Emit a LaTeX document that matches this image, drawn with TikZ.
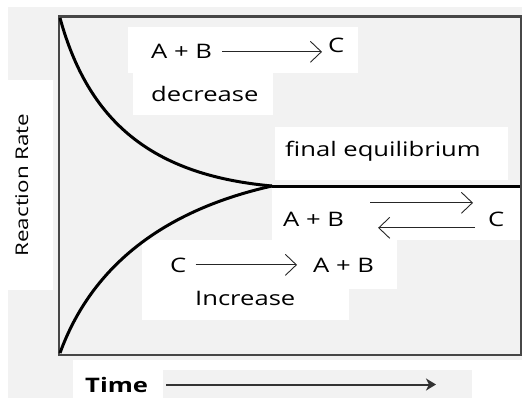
\documentclass[tikz,border=0pt]{standalone}
\usepackage{fontspec}
\setmainfont{Open Sans}[FakeStretch=1.28]
\usetikzlibrary{arrows.meta, calc}

\begin{document}
\begin{tikzpicture}[x=1pt, y=-1pt,
  lbl/.style={inner sep=0pt, anchor=base west, text=black, font=\fontsize{20}{24}\selectfont},
  rxn/.style={-{Straight Barb[length=11pt, width=21pt]}, line width=0.9pt, draw=black!85},
  timearrow/.style={-{Stealth[length=10pt, width=12pt, inset=3pt]}, line width=2pt, draw=black!80},
  curve/.style={line width=3pt, draw=black, line join=round},
  frame/.style={line width=2.6pt, draw=black!72},
  patch/.style={fill=white},
  shade/.style={fill=black!5}]
  \useasboundingbox (0,0) rectangle (524,398);
  % background
  \fill[white] (0,0) rectangle (524,398);
  \fill[shade] (8,7) rectangle (522,360);
  \fill[patch] (8,80) rectangle (53,290);
  \fill[shade] (8,290) rectangle (73,398);
  \fill[shade] (163,370) rectangle (472,398);
  % white patches behind the labels
  \fill[patch] (128,27) rectangle (358,73);
  \fill[patch] (133,73) rectangle (273,115);
  \fill[patch] (275,127) rectangle (508,180);
  \fill[patch] (272,187) rectangle (521,240);
  \fill[patch] (142,240) rectangle (397,289);
  \fill[patch] (142,289) rectangle (349,320);

  % plot frame
  \draw[frame] (59,16.5) rectangle (521,355);

  % rate curves
  \coordinate (eq) at (272,186);
  \draw[curve] (60,18) .. controls (88,120) and (150,175) .. (eq);
  \draw[curve] (60,353) .. controls (92,265) and (165,210) .. (eq);
  \draw[curve] (eq) -- (520,186);

  % labels
  \node[lbl] (ab1) at (151,59) {A + B};
  \node[lbl] (c1) at (328,53) {C};
  \node[lbl] (dec) at (151,102) {decrease};
  \node[lbl] (feq) at (285,157) {final equilibrium};
  \node[lbl] (ab2) at (283,226) {A + B};
  \node[lbl] (c2) at (488,226) {C};
  \node[lbl] (c3) at (170,272) {C};
  \node[lbl] (ab3) at (313,272) {A + B};
  \node[lbl] (inc) at (195,305) {Increase};
  \node[lbl, rotate=90, anchor=base, font=\fontsize{17.5}{20}\selectfont] (ylab) at (28,185) {Reaction Rate};
  \node[lbl, font=\fontsize{20}{24}\selectfont\bfseries] (time) at (85,392) {Time};
  \coordinate (tend) at (436,385);

  % reaction arrows
  \draw[rxn] ([xshift=10pt]ab1.east) -- ([xshift=-6pt]ab1.east -| c1.west);
  \draw[rxn] ([xshift=26pt, yshift=16pt]ab2.east) -- ([xshift=-15pt, yshift=16pt]ab2.east -| c2.west);
  \draw[rxn] ([xshift=-13pt, yshift=-9pt]ab2.east -| c2.west) -- ([xshift=34pt, yshift=-9pt]ab2.east);
  \draw[rxn] ([xshift=9pt]c3.east) -- ([xshift=-16pt]c3.east -| ab3.west);
  \draw[timearrow] ([xshift=18pt]time.east) -- (time.east -| tend);
\end{tikzpicture}
\end{document}
